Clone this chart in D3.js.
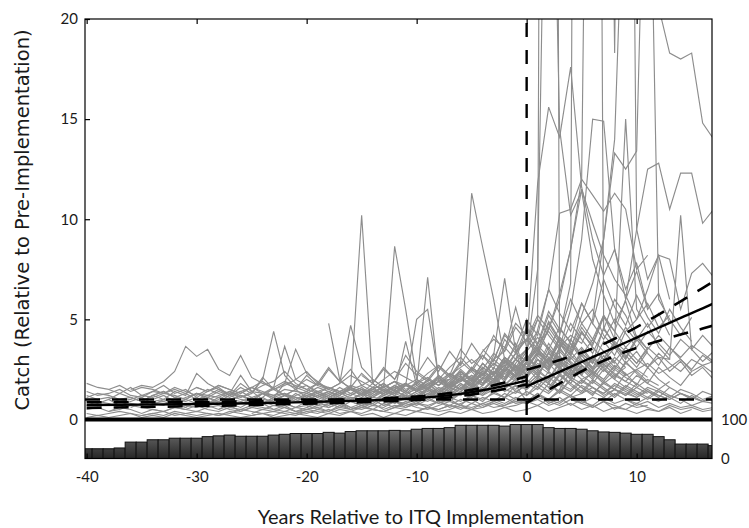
<!DOCTYPE html>
<html>
<head>
<meta charset="utf-8">
<script src="https://cdn.jsdelivr.net/npm/d3@7"></script>
<style>
  body { margin: 0; background: #fff; }
  svg { display: block; }
</style>
</head>
<body>
<div id="vis"></div>
<script>
const FRAME_WIDTH = 749;
const FRAME_HEIGHT = 528;

// x ticks, y ticks, right axis ticks
const xTicks = [-40, -30, -20, -10, 0, 10];
const yTicks = [0, 5, 10, 15, 20];
const histTicks = [0, 100];

// number of fisheries per year (histogram)
const histYears = [-40, -39, -38, -37, -36, -35, -34, -33, -32, -31,
  -30, -29, -28, -27, -26, -25, -24, -23, -22, -21,
  -20, -19, -18, -17, -16, -15, -14, -13, -12, -11,
  -10, -9, -8, -7, -6, -5, -4, -3, -2, -1,
  0, 1, 2, 3, 4, 5, 6, 7, 8, 9,
  10, 11, 12, 13, 14, 15, 16, 17];
const histCounts = [25, 25, 25, 27, 42, 42, 48, 48, 52, 52,
  52, 56, 58, 60, 57, 57, 57, 60, 62, 64,
  64, 64, 67, 65, 69, 71, 71, 71, 72, 71,
  75, 77, 77, 79, 85, 85, 85, 85, 83, 87,
  87, 87, 79, 77, 77, 75, 71, 68, 67, 65,
  62, 62, 56, 48, 37, 37, 37, 33];

// pre-implementation trend and its band
const preYears = [-40, -35, -30, -25, -20, -15, -10, -8, -6, -4, -2, 0];
const preFit = [0.72, 0.74, 0.77, 0.81, 0.87, 0.94, 1.06, 1.15, 1.28, 1.46, 1.68, 1.95];
const preUpper = [0.86, 0.86, 0.87, 0.9, 0.95, 1.02, 1.15, 1.25, 1.39, 1.59, 1.84, 2.15];
const preLower = [0.58, 0.62, 0.67, 0.72, 0.79, 0.86, 0.97, 1.05, 1.17, 1.33, 1.52, 1.75];

// post-implementation trend and its band
const postYears = [0, 2, 4, 6, 8, 10, 12, 14, 16, 17];
const postFit = [1.65, 2.14, 2.63, 3.11, 3.6, 4.09, 4.58, 5.07, 5.55, 5.8];
const postUpper = [2.48, 2.8, 3.15, 3.54, 4.03, 4.61, 5.24, 5.9, 6.56, 6.9];
const postLower = [0.82, 1.48, 2.11, 2.68, 3.17, 3.57, 3.92, 4.24, 4.54, 4.7];

const referenceLevel = 1;
const itqYear = 0;

// individual fisheries: first year of each series, then yearly catch
const seriesStart = [-40, -40, -40, -40, -40, -40, -40, -38, -36, -36,
  -35, -34, -34, -30, -18, -26, -30, -24, -20, -28,
  -15, -12, -8, -6, -10, -20, -3, -16, -6, -10,
  -4, -12, -8, 0, -5, -2, 0, 2, -7, -9,
  -20, -30, -25, -38, -15, -3, -36,
  -40, -38, -32, -22, -14, -4, -28, -2, -40, -10, 3];
const seriesCatch = [
  [1.8,1.6,1.5,1.7,1.4,1.6,1.5,1.3,1.6,1.4, 1.2,1.5,1.3,1.1,1.4,1.6,1.3,1.2,1.5,1.4, 1.3,1.6,1.4,1.2,1.5,1.7,1.4,1.3,1.6,1.8, 1.5,1.7,2.0,1.6,1.9,2.2,1.8,2.4,2.1,2.6, 2.3,2.8,2.5,3.1,2.7,2.4,3.0,2.6,2.9,2.2, 2.5,2.8,2.3,2.6,3.0,2.4,2.7,2.9],
  [0.5,0.6,0.4,0.5,0.7,0.6,0.5,0.4,0.6,0.5, 0.4,0.6,0.7,0.5,0.4,0.6,0.5,0.7,0.6,0.4, 0.5,0.6,0.4,0.7,0.5,0.6,0.8,0.5,0.7,0.6, 0.8,0.7,0.9,0.6,0.8,1.0,0.7,0.9,1.1,0.8, 0.9,1.2,1.0,1.4,1.1,1.3,1.6,1.2,1.5,1.3, 1.1,1.4,1.2,1.0,1.3,1.1,0.9,1.2],
  [1.2,1.0,1.1,0.9,1.0,1.2,1.1,1.3,1.5,1.3, 1.6,1.4,1.7,1.5,1.3,1.6,1.4,1.2,1.3,1.1, 1.0,1.2,0.9,1.1,1.0,0.8,1.0,0.9,1.1,1.2, 1.0,1.3,1.1,1.4,1.2,1.6,1.3,1.8,1.5,2.0, 1.7,2.2,1.9,2.5,2.1,1.8,2.4,2.0,2.7,2.3],
  [0.3,0.2,0.3,0.4,0.3,0.2,0.3,0.4,0.2,0.3, 0.4,0.3,0.2,0.3,0.5,0.4,0.3,0.2,0.4,0.3, 0.5,0.4,0.3,0.5,0.4,0.6,0.5,0.4,0.6,0.5, 0.4,0.6,0.5,0.7,0.6,0.5,0.8,0.6,0.7,0.9, 0.8,1.0,0.7,0.9,1.2,0.8,1.1,0.9,1.3,1.0, 0.8,1.1,0.9,1.2,1.0,0.7,0.9,0.8],
  [0.9,0.8,1.0,0.7,0.9,1.1,0.8,0.7,1.0,0.9, 1.1,0.8,1.0,1.3,2.2,1.4,1.0,0.9,1.2,1.1, 0.9,1.0,1.2,0.8,1.1,1.0,0.9,1.3,1.1,1.0, 1.2,1.4,1.1,1.6,1.3,1.2,1.5,1.9,1.4,1.7, 1.5,2.1,1.8,2.6,2.2,3.2,2.5,2.9,3.6,2.8, 3.4,2.6,3.1,2.4,2.9,2.2,2.6,2.0],
  [0.7,0.9,0.8,0.6,0.8,0.7,0.9,1.0,0.8,0.7, 0.6,0.8,0.9,0.7,0.8,1.0,0.9,0.7,0.8,0.6, 0.7,0.9,0.8,1.0,0.9,0.7,0.8,1.1,0.9,1.0, 0.8,1.2,1.0,0.9,1.3,1.1],
  [1.4,1.2,1.3,1.5,1.2,1.1,1.4,1.3,1.2,1.0, 1.3,1.1,1.4,1.2,1.6,1.3,2.1,1.5,1.7,2.0, 2.4,1.8,2.6,1.9,2.5,1.7,2.0,1.6,1.9,1.4, 1.8,1.5,2.2,1.7,2.4,1.9,2.8,2.2,3.1,2.6, 3.4,4.1,3.5,4.6,3.8,3.2,4.0,3.4,2.9,3.6, 3.0,2.6,3.3,2.8,2.4,3.0,2.7,2.3],
  [0.4,0.6,0.5,0.3,0.5,0.4,0.6,0.5,0.7,0.5, 0.4,0.6,0.5,0.7,0.6,0.5,0.4,0.6,0.5,0.7, 0.6,0.8,0.6,0.5,0.7,0.6,0.9,0.7,0.8,0.6, 0.9,0.7,1.0,0.8,1.1,0.9,1.3,1.0, 1.4,1.1,1.8,1.3,2.0,1.6,1.2,1.9,1.5,2.3, 1.7,2.6,2.0,1.6],
  [1.1,0.9,1.2,1.0,1.4,1.2,2.3,1.8,1.5,1.2, 1.4,1.1,1.3,1.5,1.2,1.0,1.3,1.1,1.4,1.2, 1.6,1.3,1.5,1.8,1.4,1.7,2.0,1.6,1.9,2.3, 2.0,2.5,2.2,2.8,2.4,3.0, 2.6,3.3,2.9,3.8,3.2,4.4,3.6,3.0,3.9,3.4, 2.8,3.5,4.2,3.6,3.1,3.7,3.3,2.9],
  [1.5,1.7,1.6,1.9,2.4,3.65,3.15,3.5,2.5,2.2, 3.2,2.1,1.8,1.6,1.9,1.7,1.5,1.8,1.6,1.4, 1.7,1.5,1.3,1.6,1.9,1.5,1.8,2.1,1.7,2.0, 2.4,1.9,2.6,2.2,2.9,2.5, 2.1,2.7,2.3,1.9,2.5,2.0,2.3,1.8,2.2,1.9, 1.6,2.0,1.7],
  [0.2,0.3,0.2,0.4,0.3,0.2,0.3,0.2,0.4,0.3, 0.2,0.3,0.4,0.3,0.2,0.4,0.3,0.5,0.3,0.4, 0.3,0.5,0.4,0.3,0.5,0.4,0.6,0.4,0.5,0.7, 0.5,0.6,0.8,0.6,0.7, 0.9,0.7,1.0,0.8,1.2,0.9,0.7,1.1,0.8,1.0, 0.7,0.9,0.6,0.8,0.6,0.7,0.5,0.6],
  [1.0,1.2,0.9,1.1,1.3,1.0,1.2,1.4,1.1,1.3, 2.0,4.4,2.2,1.6,1.4,1.8,1.5,1.3,1.6,1.4, 1.2,1.5,1.3,1.1,1.4,1.6,1.3,1.7,1.5,1.9, 2.2,1.8,2.5,2.1, 2.8,2.3,3.0,2.6,2.2,2.9,2.4,2.0],
  [0.8,0.9,0.7,1.0,0.8,1.1,0.9,1.2,1.0,0.9, 1.1,1.6,3.65,2.0,1.7,1.4,1.6,1.3,1.5,1.2, 1.4,1.6,1.3,1.8,1.5,2.0,1.7,2.3,1.9,2.6, 2.2,3.0,2.5,2.1, 2.8,2.2,3.1,2.6,2.0,2.7,2.3],
  [0.9,1.1,0.8,1.0,1.2,0.9,1.3,1.1,1.8,3.5, 2.3,1.9,1.5,1.8,4.7,2.6,2.0,1.6,1.9,1.7, 1.5,1.8,1.4,1.7,2.1,1.6,2.0,2.4,1.9,2.7, 2.2,3.0,2.5,3.4,2.8,2.3,3.1,2.6,2.1,2.8,2.4,1.9],
  [4.8,2.0,1.5,1.3,1.8,1.4,1.6,1.3,1.7,1.5, 1.9,1.6,2.1,1.8,2.4,2.0,2.6,2.2, 2.9,2.4,3.3,2.7,3.8,3.0,2.5,3.4,2.8],
  [0.9,1.1,0.8,1.0,1.2,0.9,1.1,1.3,1.0,1.2, 1.6,10.2,1.8,1.4,1.7,1.3,1.5,1.2,1.6,1.4, 1.8,1.5,2.1,1.7,2.4,2.0, 2.6,2.2,3.0,2.5,2.0,2.7,2.3,1.9,2.5,2.1,1.8],
  [1.0,0.8,1.1,0.9,1.2,1.0,0.8,1.1,1.3,1.0, 1.2,1.4,1.1,1.3,1.5,1.2,1.6,1.6,8.65,5.5, 2.0,1.7,2.2,1.8,2.5,2.0,2.8,2.3,3.1,2.6, 2.2,3.0,2.6,3.5,2.9,2.4],
  [1.3,1.0,1.2,1.5,1.1,1.4,1.2,1.6,1.3,1.1, 1.5,1.8,1.4,3.9,1.7,7.1,1.9,1.5,2.0,1.7, 2.3,1.9,2.6,2.2, 3.2,2.5,2.0,2.8,2.3,3.0,2.6],
  [1.2,0.9,1.1,1.4,1.0,1.3,1.1,1.5,1.2,1.7, 5.0,5.5,2.1,1.6,2.0,2.4,1.8,2.2,2.7,2.1, 2.9,3.6,2.8,2.2,3.1,2.5,2.0,2.7,2.3,1.9,2.5,2.1],
  [1.1,0.9,1.2,1.0,0.8,1.1,0.9,1.3,1.0,1.2, 1.4,1.1,1.3,1.6,1.2,1.5,1.3,1.7,1.4,1.6, 1.9,2.0,2.8,11.3,8.6,6.0,3.0,2.4, 3.2,2.6,3.8,3.0,2.5,3.3,2.8],
  [1.3,1.6,1.2,1.5,1.8,1.4,1.7,2.1,1.6,2.0, 2.5,2.0,3.2,7.05,3.4, 4.0,3.2,4.6,3.8,3.0,3.6,2.9,2.4,3.1,2.6],
  [1.5,1.8,1.4,2.0,1.7,2.2,1.9,2.6,2.2,3.0, 3.4,5.6, 3.6,4.4,3.5,2.8,3.4,2.7,2.2,2.9,2.4],
  [2.0,2.6,3.1,2.5,3.4,4.0,3.6,4.8, 4.2,3.5,4.9,4.0,3.3,4.4,3.6,3.0,3.8,3.2,2.6,3.4],
  [1.4,1.8,2.3,1.9,2.6,3.3, 2.9,3.7,3.1,2.5,3.2,2.7],
  [0.4,0.6,0.5,0.7,0.5,0.8,0.6,0.9,0.7,1.0, 0.8,1.1,0.9,0.7,1.0,0.8,0.6,0.9,0.7,0.5,0.8,0.6,0.4,0.7,0.5,0.6,0.4,0.5],
  [0.6,0.8,0.7,0.9,0.6,0.8,1.0,0.7,0.9,0.8, 1.1,0.9,1.2,1.0,1.4,1.1,1.6,1.3,1.8,1.5, 2.0,1.6,2.4,1.9,2.7,2.2,1.8,2.5,2.0,1.6,2.2,1.8,1.5,1.9],
  [1.8,2.4,3.0, 3.5,11.8,15.6,14.1,17.6,11.6,9.0,7.2,8.5,6.0,7.4,5.5,6.3,4.8],
  [1.0,1.3,0.9,1.2,1.5,1.1,1.4,1.8,1.3,1.7, 2.1,1.6,2.4,2.0,2.8,2.5, 3.2,7.5,40,14.5,10.2,11.4,8.0,6.2,4.8,5.9,4.1,3.5],
  [1.5,2.0,1.7,2.4,2.0,2.8, 3.5,5.0,150,2.5,4.0,3.2,2.6,3.4,2.8],
  [1.2,1.5,1.1,1.4,1.8,1.3,1.7,2.2,1.6,2.0, 2.6,3.4,2.8,4.2,6.8,130,110,4.5,6.0,5.2,4.0,4.8,3.6,3.0],
  [2.2,2.8,2.4,3.3, 4.0,5.2,4.5,6.3,8.5,12.0,60,60,18.3,70,9.5,7.0,8.2,6.0],
  [0.8,1.1,0.9,1.3,1.0,1.5,1.2,1.7,1.4,2.0,1.7,2.3, 2.0,3.2,2.6,4.1,3.5,5.2,6.8,9.0,14.0,30,45,26,20.6,18.3,18.0,18.3,14.8,14.0],
  [1.4,1.9,1.5,2.2,1.8,2.6,2.1,3.0, 2.5,3.3,2.8,4.0,3.4,4.6,3.8,5.2,4.4,6.0,9.5,12.5,12.8,10.5,12.3,12.3,9.8,10.5],
  [2.2,3.0,2.5,3.6,4.2,3.8,5.0,9.0,13.3,12.5,13.4,35,6.0,5.0,4.2,5.1],
  [1.6,2.1,1.8,2.5,2.2, 2.8,3.5,3.0,4.1,3.6,4.8,4.0,5.2,4.0,15.0,5.5,4.6,5.3,4.2],
  [2.0,2.6, 3.0,3.8,4.4,3.6,5.5,9.0,15.0,14.9,8.5,6.5,7.8,5.6],
  [1.8,2.4,2.0,2.9,2.5,3.3,2.8,3.9,3.2,4.4,5.0,6.5,8.2,8.0,5.5,7.3,7.8,7.1],
  [1.5,2.2,1.8,2.6,2.1,3.0,2.5,3.4,2.8,3.6,3.1,3.0,10.2,3.5,4.2,3.6],
  [1.9,2.4,2.0,2.8,2.3,3.1,2.7, 2.4,4.5,6.5,10.3,10.5,12.0,11.2,10.4,11.3,10.5,7.5,8.2],
  [1.1,1.5,1.2,1.7,1.4,2.0,1.6,2.3,1.9, 2.6,3.3,4.5,6.0,8.5,11.5,9.8,8.2,7.0,6.2,5.0,5.8,4.6,5.2],
  [0.7,0.5,0.8,0.6,0.9,0.7,0.5,0.8,0.6,0.9, 0.7,1.0,0.8,1.1,0.9,1.2,1.0,1.3,1.1,1.4, 1.2,1.6,1.3,1.8,1.5,2.0,1.6,1.3,1.7,1.4,1.1,1.5,1.2,1.0,1.3,1.1,0.9,1.2],
  [1.6,1.4,1.7,1.5,1.3,1.6,1.9,1.5,1.8,1.6, 2.0,1.7,1.5,1.8,2.2,1.9,1.6,2.0,2.4,2.1, 1.8,2.3,2.7,2.2,2.6,3.0,2.5,3.3,2.8,3.6, 4.0,3.4,4.8,3.9,3.2,4.3,3.7,5.1,4.4,3.6,4.2,3.5],
  [0.3,0.5,0.4,0.6,0.4,0.3,0.5,0.4,0.6,0.5, 0.7,0.5,0.4,0.6,0.8,0.6,0.5,0.7,0.9,0.7, 0.6,0.8,1.0,0.8,1.1, 0.9,1.3,1.0,1.5,1.2,1.7,1.4,1.1,1.5,1.2,1.8,1.4,1.1,1.6,1.3,1.0,1.4,1.2],
  [1.0,1.3,1.1,0.9,1.2,1.4,1.1,1.0,1.3,1.2, 1.5,1.3,1.1,1.4,1.7,1.9,2.4,1.8,1.5,1.3, 1.6,1.4,1.2,1.5,1.3,1.7,1.4,1.2,1.6,1.9, 1.5,1.8,2.2,1.7,2.5,2.0,2.9,2.3, 3.1,2.5,3.6,2.9,2.4],
  [2.2,1.8,2.5,2.0,3.2,2.4,2.0,2.7,2.2,3.5, 2.8,3.2,2.5,4.0,3.3, 4.6,3.8,5.4,4.5,3.9,5.8,4.8,4.0,5.0,4.3,3.6,4.4,3.8,3.2,4.0,3.5,2.9,3.4],
  [3.0,4.2,3.6, 5.0,4.2,6.5,5.3,4.4,5.8,4.8,7.0,5.6,4.7,6.2,5.1,4.3,5.5,4.6,3.9],
  [0.6,0.8,0.7,1.0,0.8,0.6,0.9,0.7,0.8,1.0, 0.9,0.7,1.1,0.8,1.0,0.9,1.2,1.0,0.8,1.1, 0.9,1.3,1.1,1.0,1.4,1.2,1.0,1.5,1.3,1.1, 1.6,1.4,1.2,1.7,1.5,1.3, 1.8,1.5,2.1,1.7,1.4,1.9,1.6,1.3,1.8,1.5,1.2,1.6,1.4,1.1,1.5,1.3,1.0,1.2],
  [0.1,0.2,0.1,0.2,0.3,0.1,0.2,0.1,0.3,0.2, 0.1,0.2,0.3,0.2,0.1,0.2,0.3,0.1,0.2,0.3, 0.2,0.1,0.3,0.2,0.4,0.2,0.3,0.1,0.3,0.2, 0.4,0.3,0.2,0.4,0.3,0.5,0.3,0.4,0.6,0.4, 0.5,0.7,0.4,0.6,0.8,0.5,0.7,0.4,0.6,0.5, 0.3,0.5,0.4,0.6,0.3,0.5],
  [1.5,1.3,1.6,1.2,1.4,1.7,1.3,1.5,1.1,1.4, 1.6,1.2,1.8,1.4,1.3,1.6,1.2,1.5,1.7,1.3, 1.1,1.4,1.6,1.2,1.5,1.3,1.7,1.4,1.9,1.5, 2.1,1.7,2.3,1.9,2.6,2.2,3.0,2.4, 2.9,3.5,2.7,3.2,2.5,3.0,2.3,2.8,2.2,2.6],
  [0.8,0.6,0.9,0.7,0.5,0.8,0.6,0.9,0.7,1.0, 0.8,0.6,0.9,0.7,1.0,0.8,1.1,0.9,0.7,1.0, 0.8,1.2,0.9,1.1,1.4,1.0,1.3,1.6,1.2,1.5,1.9,1.4, 1.7,2.2,1.8,1.4,2.0,1.6,1.3,1.8,1.5,1.2,1.6,1.3],
  [1.9,1.5,2.2,1.7,2.5,1.9,1.6,2.3,1.8,2.6, 2.0,2.8,2.2,3.1,2.4,3.4,2.7,3.8,3.0,4.2,3.4,4.6, 3.9,5.0,4.2,3.5,4.8,4.0,3.3,4.5,3.8,3.1,4.1],
  [0.9,1.2,1.0,1.4,1.1,1.6,1.3,1.8,1.5,2.1,1.7,2.4,2.0,2.7, 1.5,2.0,1.6,2.3,1.8,1.4,2.0,1.6,1.2,1.7,1.4,1.1,1.5,1.2],
  [3.5,2.9,4.3,3.6, 1.2,1.8,1.4,2.2,1.7,1.3,1.9,1.5,1.1,1.6,1.3,1.0,1.4,1.1,0.8,1.2,0.9,1.1],
  [0.5,0.7,0.4,0.6,0.8,0.5,0.7,0.4,0.6,0.9, 0.6,0.8,0.5,0.7,1.0,0.7,0.9,0.6,0.8,1.1, 0.8,1.0,0.7,1.2,0.9,1.4,1.1,1.7, 0.9,1.3,0.8,1.1,0.7,1.0,0.6,0.9,0.5,0.8,0.6,0.7],
  [2.6,3.8, 2.1,3.0,2.4,3.6,2.8,2.2,3.2,2.5,2.0,2.9,2.3,1.8,2.6,2.1,1.7,2.4],
  [1.1,1.3,1.2,1.0,1.1,0.9,1.2,1.4,1.1,1.3, 1.0,1.2,1.1,1.4,1.2,1.0,1.3,1.1,0.9,1.2, 1.4,1.1,1.3,1.0,1.2,1.5,1.1,1.4,1.2,1.0, 1.3,1.5,1.2,1.6,1.4,1.8,1.5,2.0,1.7,2.2, 2.6,2.0,3.4,2.5,2.1,2.9,2.4,3.2,2.6,2.2],
  [2.3,1.9,2.6,2.1,2.9,2.4,3.2,2.7,3.6,3.0, 4.5,3.7,5.2,4.3,6.0,4.8,5.5,4.2,3.6,4.6,3.9],
  [1.5,2.4,3.5,2.8,4.6,3.7,3.0,4.0,3.3,2.7,3.6,3.0,2.5,3.2,2.8]
];

// plot box
const PLOT = { left: 85, right: 712, top: 19, bottom: 458.5 };

const svg = d3.select('#vis')
  .append('svg')
  .attr('width', FRAME_WIDTH)
  .attr('height', FRAME_HEIGHT);

const X_SCALE = d3.scaleLinear().domain([-40.15, 16.85]).range([PLOT.left, PLOT.right]);
const Y_SCALE = d3.scaleLinear().domain([-1.95, 20]).range([PLOT.bottom, PLOT.top]);
const HIST_SCALE = d3.scaleLinear().domain([0, 100]).range([PLOT.bottom, Y_SCALE(0)]);

const defs = svg.append('defs');
defs.append('clipPath').attr('id', 'clip-lines')
  .append('rect')
  .attr('x', PLOT.left).attr('y', PLOT.top)
  .attr('width', PLOT.right - PLOT.left)
  .attr('height', Y_SCALE(0) - PLOT.top);
defs.append('clipPath').attr('id', 'clip-plot')
  .append('rect')
  .attr('x', PLOT.left).attr('y', PLOT.top)
  .attr('width', PLOT.right - PLOT.left)
  .attr('height', PLOT.bottom - PLOT.top);

const grad = defs.append('linearGradient')
  .attr('id', 'bar-fill')
  .attr('gradientUnits', 'userSpaceOnUse')
  .attr('x1', 0).attr('x2', 0)
  .attr('y1', Y_SCALE(0)).attr('y2', PLOT.bottom);
grad.append('stop').attr('offset', '0%').attr('stop-color', '#8c8c8c');
grad.append('stop').attr('offset', '45%').attr('stop-color', '#5c5c5c');
grad.append('stop').attr('offset', '100%').attr('stop-color', '#262626');

// gray lines, one per fishery
const seriesData = seriesCatch.map((vals, i) =>
  vals.map((v, j) => ({ year: seriesStart[i] + j, value: v })));

const grayLine = d3.line()
  .x((d) => X_SCALE(d.year))
  .y((d) => Y_SCALE(d.value));

svg.append('g')
  .attr('clip-path', 'url(#clip-lines)')
  .selectAll('path')
  .data(seriesData)
  .enter()
  .append('path')
  .attr('d', grayLine)
  .attr('fill', 'none')
  .attr('stroke', '#8d8d8d')
  .attr('stroke-width', 1.15);

// histogram of fisheries per year
svg.append('g')
  .attr('clip-path', 'url(#clip-plot)')
  .selectAll('rect')
  .data(histYears)
  .enter()
  .append('rect')
  .attr('x', (d) => X_SCALE(d - 0.5))
  .attr('width', (d) => X_SCALE(d + 0.5) - X_SCALE(d - 0.5))
  .attr('y', (d, i) => HIST_SCALE(histCounts[i]))
  .attr('height', (d, i) => PLOT.bottom - HIST_SCALE(histCounts[i]))
  .attr('fill', 'url(#bar-fill)')
  .attr('stroke', '#111')
  .attr('stroke-width', 1);

// trend lines
const fitLine = d3.line()
  .x((d) => X_SCALE(d[0]))
  .y((d) => Y_SCALE(d[1]))
  .curve(d3.curveMonotoneX);

const trends = svg.append('g').attr('clip-path', 'url(#clip-lines)');

function drawTrend(years, vals, dashed) {
  trends.append('path')
    .datum(years.map((y, i) => [y, vals[i]]))
    .attr('d', fitLine)
    .attr('fill', 'none')
    .attr('stroke', '#000')
    .attr('stroke-width', dashed ? 2.6 : 2.4)
    .attr('stroke-dasharray', dashed ? '15,12' : null);
}

// reference level of 1
trends.append('line')
  .attr('x1', X_SCALE(-40.15)).attr('x2', X_SCALE(16.85))
  .attr('y1', Y_SCALE(referenceLevel)).attr('y2', Y_SCALE(referenceLevel))
  .attr('stroke', '#000')
  .attr('stroke-width', 2.4)
  .attr('stroke-dasharray', '15,12');

drawTrend(preYears, preUpper, true);
drawTrend(preYears, preLower, true);
drawTrend(preYears, preFit, false);
drawTrend(postYears, postUpper, true);
drawTrend(postYears, postLower, true);
drawTrend(postYears, postFit, false);

// ITQ implementation year
svg.append('line')
  .attr('x1', X_SCALE(itqYear)).attr('x2', X_SCALE(itqYear))
  .attr('y1', Y_SCALE(20) + 4).attr('y2', Y_SCALE(0))
  .attr('stroke', '#000')
  .attr('stroke-width', 2.4)
  .attr('stroke-dasharray', '14,13');

// zero line
svg.append('line')
  .attr('x1', PLOT.left).attr('x2', PLOT.right)
  .attr('y1', Y_SCALE(0)).attr('y2', Y_SCALE(0))
  .attr('stroke', '#000')
  .attr('stroke-width', 4);

// frame
svg.append('rect')
  .attr('x', PLOT.left).attr('y', PLOT.top)
  .attr('width', PLOT.right - PLOT.left)
  .attr('height', PLOT.bottom - PLOT.top)
  .attr('fill', 'none')
  .attr('stroke', '#000')
  .attr('stroke-width', 1.2);

// axes
function styleAxis(g) {
  g.select('.domain').remove();
  g.selectAll('.tick line').attr('stroke', '#000').attr('stroke-width', 1.2);
  g.selectAll('.tick text')
    .attr('fill', '#1a1a1a')
    .style('font-family', 'Lato, "Open Sans", sans-serif')
    .style('font-size', '15px');
}

const plainNumber = (d) => String(d);

svg.append('g')
  .attr('transform', 'translate(0,' + PLOT.bottom + ')')
  .call(d3.axisBottom(X_SCALE).tickValues(xTicks).tickFormat(plainNumber).tickSize(-5).tickPadding(13))
  .call(styleAxis);

svg.append('g')
  .attr('transform', 'translate(0,' + PLOT.top + ')')
  .call(d3.axisTop(X_SCALE).tickValues(xTicks).tickSize(-5).tickFormat(''))
  .call(styleAxis);

svg.append('g')
  .attr('transform', 'translate(' + PLOT.left + ',0)')
  .call(d3.axisLeft(Y_SCALE).tickValues(yTicks).tickFormat(plainNumber).tickSize(-5).tickPadding(7))
  .call(styleAxis);

svg.append('g')
  .attr('transform', 'translate(' + PLOT.right + ',0)')
  .call(d3.axisRight(HIST_SCALE).tickValues(histTicks).tickFormat(plainNumber).tickSize(0).tickPadding(9))
  .call(styleAxis);

// axis titles
svg.append('text')
  .attr('transform', 'translate(22,220) rotate(-90)')
  .attr('text-anchor', 'middle')
  .attr('dominant-baseline', 'central')
  .style('font-family', '"DejaVu Sans", Verdana, sans-serif')
  .style('font-size', '19.5px')
  .attr('fill', '#1a1a1a')
  .text('Catch (Relative to Pre-Implementation)');

svg.append('text')
  .attr('x', 421)
  .attr('y', 516)
  .attr('text-anchor', 'middle')
  .attr('dominant-baseline', 'central')
  .style('font-family', 'Lato, "Open Sans", sans-serif')
  .style('font-size', '20px')
  .attr('fill', '#1a1a1a')
  .text('Years Relative to ITQ Implementation');
</script>
</body>
</html>
